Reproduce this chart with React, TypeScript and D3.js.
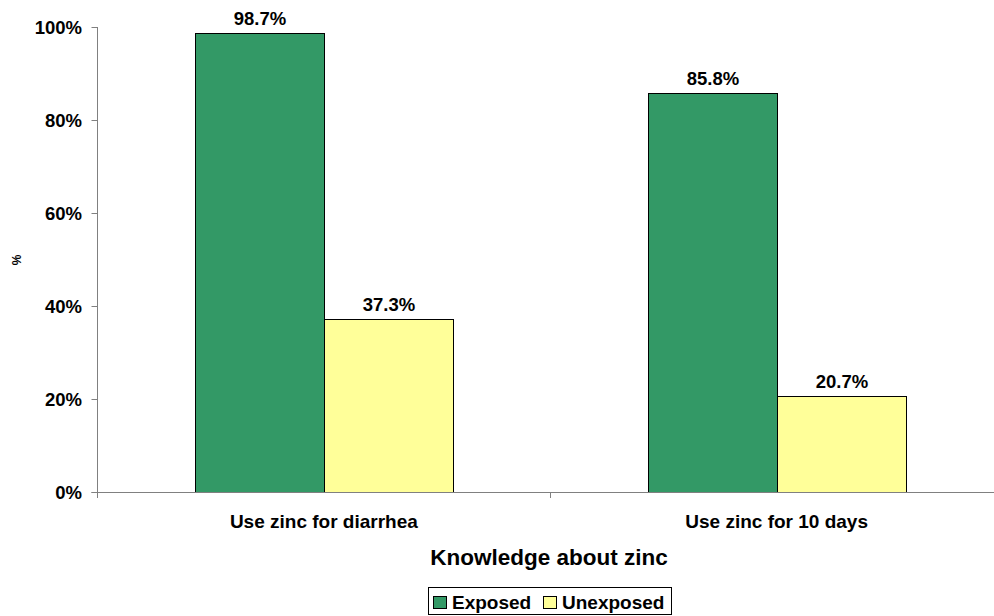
import React from 'react';
import * as d3 from 'd3';

const categories = ['Use zinc for diarrhea', 'Use zinc for 10 days'];
const seriesNames = ['Exposed', 'Unexposed'];
const exposed = [98.7, 85.8];
const unexposed = [37.3, 20.7];
const yTicks = [0, 20, 40, 60, 80, 100];
const colors = ['#339966', '#FFFF99'];

const W = 994, H = 616;
const left = 97.5, right = 1003, top = 27, bottom = 492;
const font = '"Liberation Sans", Arial, sans-serif';

const App = () => {
	const x = d3.scaleBand().domain(categories).range([left, right]);
	const xs = d3.scaleBand().domain(seriesNames).range([0, x.bandwidth()]).paddingInner(0).paddingOuter(0.755);
	const y = d3.scaleLinear().domain([0, 100]).range([bottom, top]);
	const values = [exposed, unexposed];

	return (
		<svg width={W} height={H} style={{ position: 'absolute', left: 0, top: 0, fontFamily: font }}>
			<rect width={W} height={H} fill="#fff" />
			{/* bars */}
			{categories.map((c, ci) =>
				seriesNames.map((s, si) => {
					const v = values[si][ci];
					const bx = Math.round((x(c) as number) + (xs(s) as number)) + 0.5;
					return (
						<g key={c + s}>
							<rect x={bx} y={Math.round(y(v)) + 0.5} width={Math.round(xs.bandwidth())} height={bottom - Math.round(y(v))} fill={colors[si]} stroke="#000" strokeWidth={1} />
							<text x={bx + xs.bandwidth() / 2} y={y(v) - 8} textAnchor="middle" fontSize={18.5} fontWeight="bold">
								{v.toFixed(1)}%
							</text>
						</g>
					);
				})
			)}
			{/* y axis */}
			<line x1={left} x2={left} y1={top} y2={bottom + 6} stroke="#808080" strokeWidth={1} />
			{yTicks.map((t) => (
				<g key={t}>
					<line x1={left - 6} x2={left} y1={Math.round(y(t)) + 0.5} y2={Math.round(y(t)) + 0.5} stroke="#808080" />
					<text x={82} y={y(t) + 6.5} textAnchor="end" fontSize={18.5} fontWeight="bold">
						{t}%
					</text>
				</g>
			))}
			{/* x axis */}
			<line x1={left - 6} x2={W} y1={bottom + 0.5} y2={bottom + 0.5} stroke="#808080" strokeWidth={1} />
			{categories.slice(1).map((c) => (
				<line key={c} x1={Math.round(x(c) as number) + 0.5} x2={Math.round(x(c) as number) + 0.5} y1={bottom} y2={bottom + 6} stroke="#808080" />
			))}
			{categories.map((c) => (
				<text key={c} x={(x(c) as number) + x.bandwidth() / 2} y={528} textAnchor="middle" fontSize={19} fontWeight="bold">
					{c}
				</text>
			))}
			<text x={549} y={565} textAnchor="middle" fontSize={22.5} fontWeight="bold">
				Knowledge about zinc
			</text>
			<text transform="translate(21,260) rotate(-90)" textAnchor="middle" fontSize={12} fontWeight="bold">
				%
			</text>
			{/* legend */}
			<rect x={428.5} y={587.5} width={243} height={27} fill="#fff" stroke="#000" strokeWidth={1} />
			{seriesNames.map((s, i) => {
				const lx = i === 0 ? 433 : 543;
				return (
					<g key={s}>
						<rect x={lx + 0.5} y={596.5} width={13} height={12} fill={colors[i]} stroke="#000" />
						<text x={lx + 19} y={609} fontSize={19} fontWeight="bold">
							{s}
						</text>
					</g>
				);
			})}
		</svg>
	);
};

export default App;
